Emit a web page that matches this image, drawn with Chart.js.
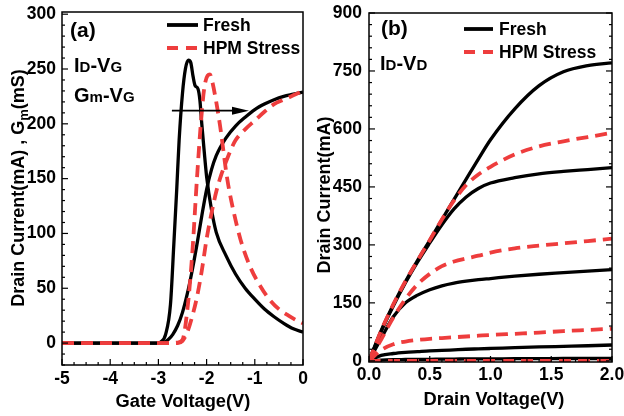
<!DOCTYPE html>
<html>
<head>
<meta charset="utf-8">
<title>HPM stress: transfer and output curves</title>
<script src="https://cdn.jsdelivr.net/npm/chart.js@4.4.1/dist/chart.umd.min.js"></script>
<style>
  html, body { margin: 0; padding: 0; background: #fff; }
  #wrap { position: relative; width: 624px; height: 416px; background: #fff; }
  canvas { position: absolute; top: 0; }
  #gateCanvas { left: 0; }
  #drainCanvas { left: 312px; }
</style>
</head>
<body>
<div id="wrap">
  <canvas id="gateCanvas" width="312" height="416"></canvas>
  <canvas id="drainCanvas" width="312" height="416"></canvas>
</div>
<script>
// (a) Id-Vg and Gm-Vg
var vgTicks = [-5, -4, -3, -2, -1, 0];
var leftTicksA = [0, 50, 100, 150, 200, 250, 300];

var vgIdFresh = [-5, -3.0, -2.9, -2.8, -2.7, -2.6, -2.5, -2.4, -2.3, -2.2, -2.1, -2.0, -1.9, -1.8, -1.6, -1.4, -1.2, -1.0, -0.8, -0.6, -0.4, -0.2, 0];
var idFresh = [0, 0, 0.5, 3, 8, 16, 28, 45, 66, 90, 116, 140, 158, 171, 187, 198, 206, 213, 218, 222, 225, 227, 229];

var vgGmFresh = [-5, -3.0, -2.95, -2.85, -2.75, -2.68, -2.62, -2.57, -2.5, -2.44, -2.38, -2.33, -2.28, -2.24, -2.18, -2.14, -2.1, -2.05, -2.0, -1.9, -1.8, -1.6, -1.4, -1.2, -1.0, -0.8, -0.6, -0.4, -0.2, 0];
var gmFresh = [0, 0, 1, 8, 35, 90, 140, 185, 228, 250, 258, 256, 243, 235, 232, 222, 200, 175, 152, 122, 101, 80, 63, 50, 40, 31, 24, 18, 13, 10];

var vgIdStress = [-5, -2.6, -2.5, -2.4, -2.3, -2.2, -2.1, -2.0, -1.9, -1.8, -1.7, -1.6, -1.5, -1.4, -1.2, -1.0, -0.8, -0.6, -0.4, -0.2, 0];
var idStress = [0, 0, 2, 10, 24, 42, 66, 95, 118, 138, 153, 165, 176, 185, 195, 203, 211, 218, 222, 226, 230];

var vgGmStress = [-5, -2.75, -2.6, -2.5, -2.4, -2.3, -2.2, -2.12, -2.05, -1.98, -1.93, -1.88, -1.8, -1.72, -1.65, -1.6, -1.55, -1.45, -1.3, -1.1, -0.9, -0.7, -0.5, -0.3, -0.1, 0];
var gmStress = [0, 0, 0.5, 3, 30, 80, 150, 200, 232, 244, 245, 238, 220, 198, 175, 158, 144, 122, 95, 70, 53, 40, 31, 25, 20, 18];

// threshold shift arrow (Vg from -> to, at this current level)
var shiftArrowVg = [-2.72, -1.12];
var shiftArrowLevel = 212;

// (b) Id-Vd family
var vdTicks = [0, 0.5, 1.0, 1.5, 2.0];
var leftTicksB = [0, 150, 300, 450, 600, 750, 900];
var vd = [0, 0.1, 0.2, 0.3, 0.4, 0.5, 0.6, 0.7, 0.8, 0.9, 1.0, 1.2, 1.4, 1.6, 1.8, 2.0];

var idFresh1 = [0, 78, 145, 205, 260, 312, 365, 418, 470, 522, 572, 652, 712, 748, 764, 771];
var idFresh2 = [0, 76, 142, 202, 256, 305, 352, 393, 424, 446, 460, 474, 484, 490, 495, 500];
var idFresh3 = [0, 58, 114, 150, 170, 184, 194, 201, 206, 210, 213, 219, 224, 228, 232, 236];
var idFresh4 = [0, 14, 19, 22, 24, 26, 27, 28.5, 30, 31, 32, 34, 36, 37.5, 39, 41];
var idFresh5 = [0, 2, 3, 3.5, 4, 4, 4.5, 4.5, 5, 5, 5, 5.5, 5.5, 6, 6, 6];

var idStress1 = [0, 78, 146, 206, 260, 312, 366, 415, 455, 482, 502, 534, 555, 568, 579, 590];
var idStress2 = [0, 55, 112, 160, 198, 225, 245, 257, 265, 272, 280, 291, 298, 304, 310, 316];
var idStress3 = [0, 28, 43, 50, 54, 57, 59, 61, 63, 65, 67, 70, 73, 77, 80, 83];
var idStress4 = [0, 0, 0, 0, 0, 0, 0, 0, 0, 0, 0, 0, 0, 0, 0, 0];

var FONT = '"Liberation Sans", Arial, Helvetica, sans-serif';
var RED = '#ee3d3d';
var DASH = [12, 7];

function pts(xs, ys) {
  return xs.map(function (x, i) { return { x: x, y: ys[i] }; });
}

function freshLine(xs, ys) {
  return { data: pts(xs, ys), borderColor: '#000', borderWidth: 3.3, order: 1 };
}

function stressLine(xs, ys) {
  return { data: pts(xs, ys), borderColor: RED, borderWidth: 3.8, borderDash: DASH, order: 0 };
}

function axis(min, max, tickVals, pad, size, horiz, fmt) {
  return {
    type: 'linear',
    min: min,
    max: max,
    grid: { display: false, drawTicks: false },
    border: { display: false },
    ticks: {
      color: '#000',
      padding: pad,
      autoSkip: false,
      maxRotation: 0,
      font: { family: FONT, size: 17.5, weight: 'bold' },
      callback: fmt
    },
    afterBuildTicks: function (s) {
      s.ticks = tickVals.map(function (v) { return { value: v }; });
    },
    afterFit: function (s) {
      if (horiz) {
        s.height = size;
        s.paddingLeft = 0;
        s.paddingRight = 0;
      } else {
        s.width = size;
        s.paddingTop = 0;
        s.paddingBottom = 0;
      }
    }
  };
}

// inward tick marks (major + minor) along one side of the plot frame
function inwardTicks(ctx, scale, n, area, side) {
  var vals = scale.ticks.map(function (t) { return t.value; });
  var step = vals[1] - vals[0];
  var minor = step / n;
  for (var k = Math.ceil(scale.min / minor - 1e-9); k * minor <= scale.max + 1e-9; k++) {
    var v = k * minor;
    var major = Math.abs(v / step - Math.round(v / step)) < 1e-6;
    var len = major ? 6 : 3;
    var p = scale.getPixelForValue(v);
    ctx.beginPath();
    if (side === 'bottom') { ctx.moveTo(p, area.bottom); ctx.lineTo(p, area.bottom - len); }
    else if (side === 'left') { ctx.moveTo(area.left, p); ctx.lineTo(area.left + len, p); }
    else { ctx.moveTo(area.right, p); ctx.lineTo(area.right - len, p); }
    ctx.stroke();
  }
}

var frameTicks = {
  id: 'frameTicks',
  afterDatasetsDraw: function (chart, args, opts) {
    var ctx = chart.ctx, a = chart.chartArea;
    ctx.save();
    ctx.strokeStyle = '#000';
    ctx.lineWidth = 1.5;
    ctx.strokeRect(a.left, a.top, a.right - a.left, a.bottom - a.top);
    ctx.lineWidth = 1.2;
    inwardTicks(ctx, chart.scales.x, opts.xMinor, a, 'bottom');
    inwardTicks(ctx, chart.scales.y, opts.yMinor, a, 'left');
    if (opts.mirrorY) inwardTicks(ctx, chart.scales.y, opts.yMinor, a, 'right');
    ctx.restore();
  }
};

// text made of runs: [text, size, baseline shift]
function runsWidth(ctx, runs) {
  var w = 0;
  runs.forEach(function (r) {
    ctx.font = 'bold ' + r[1] + 'px ' + FONT;
    w += ctx.measureText(r[0]).width;
  });
  return w;
}

function drawRuns(ctx, x, y, runs) {
  runs.forEach(function (r) {
    ctx.font = 'bold ' + r[1] + 'px ' + FONT;
    ctx.fillText(r[0], x, y + (r[2] || 0));
    x += ctx.measureText(r[0]).width;
  });
}

function centredRuns(ctx, cx, baseline, runs) {
  drawRuns(ctx, cx - runsWidth(ctx, runs) / 2, baseline, runs);
}

function verticalRuns(ctx, cx, cy, runs) {
  ctx.save();
  ctx.translate(cx, cy);
  ctx.rotate(-Math.PI / 2);
  drawRuns(ctx, -runsWidth(ctx, runs) / 2, 6.5, runs);
  ctx.restore();
}

function legendRow(ctx, x0, x1, y, dashed, label, textX, baseline) {
  ctx.save();
  ctx.beginPath();
  ctx.strokeStyle = dashed ? RED : '#000';
  ctx.lineWidth = 3.8;
  ctx.setLineDash(dashed ? [11, 8] : []);
  ctx.moveTo(x0, y);
  ctx.lineTo(x1, y);
  ctx.stroke();
  ctx.restore();
  ctx.font = 'bold 17.5px ' + FONT;
  ctx.fillText(label, textX, baseline);
}

var gateText = {
  id: 'gateText',
  afterDraw: function (chart) {
    var ctx = chart.ctx;
    var sx = chart.scales.x, sy = chart.scales.y;
    ctx.save();
    ctx.fillStyle = '#000';
    ctx.textBaseline = 'alphabetic';
    ctx.textAlign = 'left';

    // shift arrow
    var xa = sx.getPixelForValue(shiftArrowVg[0]);
    var xb = sx.getPixelForValue(shiftArrowVg[1]);
    var ya = sy.getPixelForValue(shiftArrowLevel);
    ctx.strokeStyle = '#000';
    ctx.lineWidth = 1.6;
    ctx.beginPath();
    ctx.moveTo(xa, ya);
    ctx.lineTo(xb - 12, ya);
    ctx.stroke();
    ctx.beginPath();
    ctx.moveTo(xb, ya);
    ctx.lineTo(xb - 17, ya - 4);
    ctx.lineTo(xb - 17, ya + 4);
    ctx.closePath();
    ctx.fill();

    legendRow(ctx, 167, 198, 25, false, 'Fresh', 203, 31);
    legendRow(ctx, 167, 198, 48, true, 'HPM Stress', 203, 54);

    drawRuns(ctx, 70, 37, [['(a)', 21]]);
    drawRuns(ctx, 74, 72, [['I', 20], ['D', 15], ['-V', 20], ['G', 15]]);
    drawRuns(ctx, 74, 102, [['G', 20], ['m', 15], ['-V', 20], ['G', 15]]);

    centredRuns(ctx, 183, 407, [['Gate Voltage(V)', 18.3]]);
    verticalRuns(ctx, 17, 188, [['Drain Current(mA) , G', 18], ['m', 13, 4], ['(mS)', 18]]);
    ctx.restore();
  }
};

var drainText = {
  id: 'drainText',
  afterDraw: function (chart) {
    var ctx = chart.ctx;
    ctx.save();
    ctx.fillStyle = '#000';
    ctx.textBaseline = 'alphabetic';
    ctx.textAlign = 'left';

    legendRow(ctx, 152, 181, 29, false, 'Fresh', 187, 35);
    legendRow(ctx, 152, 181, 52, true, 'HPM Stress', 187, 58);

    drawRuns(ctx, 69, 35, [['(b)', 21]]);
    drawRuns(ctx, 68, 70, [['I', 20], ['D', 15], ['-V', 20], ['D', 15]]);

    centredRuns(ctx, 182, 405, [['Drain Voltage(V)', 18.3]]);
    verticalRuns(ctx, 11.5, 195, [['Drain Current(mA)', 18]]);
    ctx.restore();
  }
};

function lineOptions(padding, scales, frameOpts) {
  return {
    responsive: false,
    animation: false,
    devicePixelRatio: 1,
    layout: { padding: padding, autoPadding: false },
    elements: {
      point: { radius: 0, hoverRadius: 0 },
      line: { tension: 0, cubicInterpolationMode: 'monotone', borderCapStyle: 'butt', borderJoinStyle: 'round' }
    },
    plugins: {
      legend: { display: false },
      tooltip: { enabled: false },
      frameTicks: frameOpts
    },
    scales: scales
  };
}

new Chart(document.getElementById('gateCanvas'), {
  type: 'line',
  data: {
    datasets: [
      freshLine(vgIdFresh, idFresh),
      freshLine(vgGmFresh, gmFresh),
      stressLine(vgIdStress, idStress),
      stressLine(vgGmStress, gmStress)
    ]
  },
  options: lineOptions(
    { top: 12, right: 9, left: 0, bottom: 0 },
    {
      x: axis(-5, 0, vgTicks, 4, 51, true, function (v) { return String(v); }),
      y: axis(-20, 302, leftTicksA, 6, 62, false, function (v) { return String(v); })
    },
    { xMinor: 4, yMinor: 5, mirrorY: false }
  ),
  plugins: [frameTicks, gateText]
});

new Chart(document.getElementById('drainCanvas'), {
  type: 'line',
  data: {
    datasets: [
      freshLine(vd, idFresh1),
      freshLine(vd, idFresh2),
      freshLine(vd, idFresh3),
      freshLine(vd, idFresh4),
      freshLine(vd, idFresh5),
      stressLine(vd, idStress1),
      stressLine(vd, idStress2),
      stressLine(vd, idStress3),
      stressLine(vd, idStress4)
    ]
  },
  options: lineOptions(
    { top: 13, right: 12, left: 0, bottom: 0 },
    {
      x: axis(0, 2, vdTicks, 3, 54, true, function (v) { return v.toFixed(1); }),
      y: axis(-3, 900, leftTicksB, 7, 57, false, function (v) { return String(v); })
    },
    { xMinor: 5, yMinor: 5, mirrorY: true }
  ),
  plugins: [frameTicks, drainText]
});
</script>
</body>
</html>
